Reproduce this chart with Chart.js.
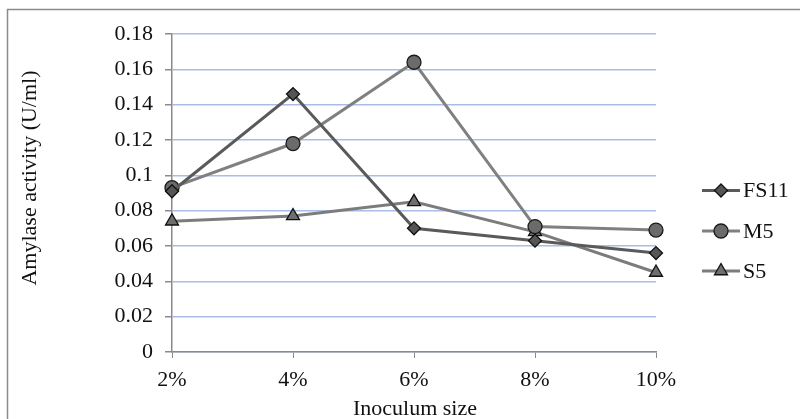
<!DOCTYPE html>
<html><head><meta charset="utf-8">
<script src="https://cdn.jsdelivr.net/npm/chart.js@4"></script>
<style>html,body{margin:0;padding:0;background:#fff}#wrap{width:800px;height:419px}</style>
</head><body><div id="wrap"><canvas id="c" width="800" height="419"></canvas></div>
<script>
const categories = ['2%', '4%', '6%', '8%', '10%'];
const seriesNames = ['FS11', 'M5', 'S5'];
const fs11 = [0.091, 0.146, 0.070, 0.063, 0.056];
const m5 = [0.093, 0.118, 0.164, 0.071, 0.069];
const s5 = [0.074, 0.077, 0.085, 0.068, 0.045];
const yMin = 0, yMax = 0.18, yStep = 0.02;
const xTitle = 'Inoculum size';
const yTitle = 'Amylase activity (U/ml)';

const FONT = '"Liberation Serif", "Times New Roman", serif';
const AXIS = '#8a8a8a';
const TEXT = '#111111';

const styles = [
  {line: '#5a5a5a', fill: '#555555', border: '#111111', pointStyle: 'rectRot', radius: 6.5},
  {line: '#808080', fill: '#6b6b6b', border: '#1a1a1a', pointStyle: 'circle', radius: 7},
  {line: '#7c7c7c', fill: '#6e6e6e', border: '#111111', pointStyle: 'triangle', radius: 7.5}
];
const values = [fs11, m5, s5];

const datasets = seriesNames.map((n, i) => ({
  label: n,
  data: values[i],
  borderColor: styles[i].line,
  borderWidth: 3,
  backgroundColor: styles[i].fill,
  pointBackgroundColor: styles[i].fill,
  pointBorderColor: styles[i].border,
  pointBorderWidth: 1.3,
  pointStyle: styles[i].pointStyle,
  pointRadius: styles[i].radius,
  tension: 0,
  fill: false
}));

function drawMarker(ctx, style, x, y, r) {
  ctx.beginPath();
  if (style === 'circle') {
    ctx.arc(x, y, r, 0, Math.PI * 2);
  } else if (style === 'rectRot') {
    ctx.moveTo(x, y - r); ctx.lineTo(x + r, y); ctx.lineTo(x, y + r); ctx.lineTo(x - r, y);
  } else {
    const h = r * Math.sqrt(3) / 2;
    ctx.moveTo(x, y - r); ctx.lineTo(x + h, y + r / 2); ctx.lineTo(x - h, y + r / 2);
  }
  ctx.closePath();
  ctx.fill(); ctx.stroke();
}

const decor = {
  id: 'decor',
  beforeDraw(chart) {
    const ctx = chart.ctx;
    ctx.save();
    ctx.fillStyle = '#fff';
    ctx.fillRect(0, 0, chart.width, chart.height);
    ctx.strokeStyle = '#8c8c8c';
    ctx.lineWidth = 1.5;
    ctx.strokeRect(7.5, 9.5, chart.width + 20, chart.height + 20);
    ctx.restore();
  },
  afterDraw(chart) {
    const ctx = chart.ctx;
    const ca = chart.chartArea;
    ctx.save();
    ctx.fillStyle = TEXT;
    ctx.font = '22px ' + FONT;
    ctx.textAlign = 'center';
    ctx.textBaseline = 'alphabetic';
    ctx.fillText(xTitle, (ca.left + ca.right) / 2 + 1, 415);
    ctx.save();
    ctx.translate(36, (ca.top + ca.bottom) / 2 - 15);
    ctx.rotate(-Math.PI / 2);
    ctx.fillText(yTitle, 0, 0);
    ctx.restore();
    const rows = [190.5, 231, 271];
    seriesNames.forEach((n, i) => {
      const y = rows[i];
      const st = styles[i];
      ctx.strokeStyle = st.line;
      ctx.lineWidth = 3;
      ctx.beginPath(); ctx.moveTo(702, y); ctx.lineTo(740, y); ctx.stroke();
      ctx.fillStyle = st.fill;
      ctx.strokeStyle = st.border;
      ctx.lineWidth = 1.3;
      drawMarker(ctx, st.pointStyle, 721, y, st.radius);
      ctx.fillStyle = TEXT;
      ctx.textAlign = 'left';
      ctx.textBaseline = 'middle';
      ctx.fillText(n, 743, y + 1);
    });
    ctx.restore();
  }
};

new Chart(document.getElementById('c'), {
  type: 'line',
  data: {labels: categories, datasets},
  options: {
    responsive: false,
    animation: false,
    devicePixelRatio: 1,
    layout: {padding: {left: 0, right: 144, top: 34, bottom: 0}},
    plugins: {legend: {display: false}, tooltip: {enabled: false}, title: {display: false}},
    scales: {
      x: {
        offset: false,
        afterFit(s) { s.height = 67; },
        grid: {drawOnChartArea: false, drawTicks: true, tickLength: 6, tickColor: AXIS, color: AXIS},
        border: {color: AXIS, width: 1.5},
        ticks: {font: {family: FONT, size: 22}, color: TEXT, padding: 9, maxRotation: 0}
      },
      y: {
        min: yMin, max: yMax,
        afterFit(s) { s.width = 172; },
        grid: {color: '#a9bee7', lineWidth: 1.5, tickLength: 7, tickColor: AXIS},
        border: {color: AXIS, width: 1.5},
        ticks: {
          stepSize: yStep,
          font: {family: FONT, size: 22}, color: TEXT, padding: 12,
          callback: v => String(+v.toFixed(2))
        }
      }
    }
  },
  plugins: [decor]
});
</script>
</body></html>
